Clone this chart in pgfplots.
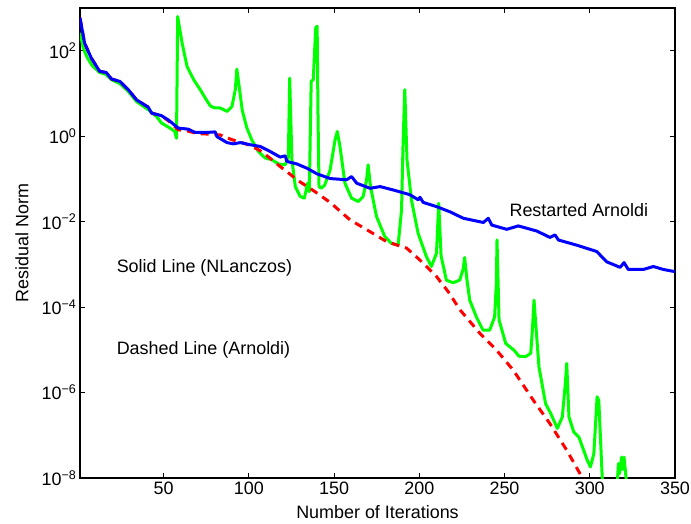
\documentclass[border=0pt]{standalone}
\usepackage{pgfplots}
\pgfplotsset{compat=1.18}
\usepackage{pgfplotstable}
\usepackage{fontspec}
\setmainfont{Liberation Sans}

\pgfplotstableread{
x y
1 5.89e2
3.7 1.51e2
7.6 6.76e1
12.5 3.31e1
16.4 3.09e1
19.4 2.19e1
24.4 1.91e1
29.3 1.23e1
34.2 7.08
41 4.79
43 3.47
48.8 3.02
52.8 2.40
58.6 1.55
64.5 1.46
68.4 1.23
76.2 1.23
80.3 1.26
81.3 0.977
87.2 0.708
91 0.661
95 0.708
100.8 0.631
106.7 0.575
112.6 0.437
118.4 0.324
121.4 0.347
122.3 0.257
128.2 0.224
134.1 0.178
139.9 0.132
147.7 0.102
157.4 0.0955
160.3 0.1135
163.3 0.0794
171.1 0.0603
177 0.0661
184.8 0.0550
194.5 0.0427
199.4 0.0324
200.4 0.0372
202.3 0.0282
210.2 0.0224
218 0.0170
225.8 0.0120
237.6 0.00955
240.5 0.0120
242.5 0.00832
251.3 0.00661
258.1 0.00794
268.9 0.00603
276.7 0.00427
279.6 0.00490
281.6 0.00372
292.3 0.00282
304.1 0.00200
309.9 0.00115
317.8 8.51e-4
320.1 1.10e-3
322.6 7.59e-4
331.4 7.59e-4
337.3 8.91e-4
343.2 7.59e-4
350 6.76e-4
}\restarted

\pgfplotstableread{
x y
1 5.89e2
3.7 1.51e2
7.6 6.76e1
12.5 3.31e1
16.4 3.09e1
19.4 2.19e1
24.4 1.91e1
29.3 1.23e1
34.2 7.08
41 4.79
43 3.47
48.8 3.02
52.8 2.29
58.6 1.41
64 1.32
70 1.15
76 1.12
83.2 1.07
90 0.832
96 0.708
101 0.603
106.7 0.457
112 0.316
118.4 0.195
123 0.141
128.2 0.0955
138.9 0.0501
147.7 0.0282
159.4 0.0110
169.2 0.00646
180.9 0.00339
192.6 0.00240
200.4 0.00126
210.2 5.13e-4
217 2.29e-4
224 8.51e-5
235.7 2.40e-5
245.4 9.77e-6
255.2 3.31e-6
266.9 6.61e-7
276.7 1.86e-7
286.5 4.47e-8
294.3 1.26e-8
300 5.01e-9
}\arnoldi

\pgfplotstableread{
x y
1 2.63e2
3 1.12e2
5.4 6.76e1
8 4.57e1
12.5 3.09e1
16 2.82e1
19.5 2.09e1
24.4 1.70e1
29.3 1.12e1
34.2 6.46
41 4.17
45.9 2.88
48.8 2.04
53.7 1.55
56.6 1.29
57.6 0.891
58.3 6.31e2
60.9 1.51e2
63.8 4.27e1
67.7 2.09e1
71.5 1.23e1
74.5 7.76
77.4 5.13
80 4.57
83.3 4.57
87.2 3.80
90.1 4.90
92.1 1.23e1
93 3.72e1
94.6 1.23e1
96.2 3.98
98.9 1.55
101.8 0.813
105.7 0.437
109.6 0.309
113.5 0.282
117.4 0.224
121.3 0.214
123.2 0.316
124 2.29e1
125.3 0.282
127.3 0.0661
130.2 0.0389
132.6 0.0355
134.5 0.0794
135.5 0.0501
136.6 1.91e1
137.8 2.09e1
139.3 3.55e2
140.1 3.72e2
140.6 3.16
141.2 0.0661
142.5 0.0603
144.6 0.0724
147.7 0.162
150.6 0.813
151.9 1.29
153.5 0.575
156.4 0.0794
160.3 0.0355
164.2 0.0295
167.1 0.0389
169.1 0.0955
170 0.214
171.4 0.0661
174.9 0.0132
179.8 0.00447
183.7 0.00309
187.6 0.00282
189.6 0.0186
190.5 0.692
191.5 1.23e1
192.8 0.282
195.4 0.0324
199.3 0.00537
204.2 0.00151
207.1 8.91e-4
210.1 0.00182
211.4 0.0269
212.8 0.00158
215.9 4.27e-4
219.8 3.72e-4
223.7 4.27e-4
225.8 7.94e-4
226.6 1.45e-3
228 4.27e-4
229.6 1.45e-4
233.5 5.89e-5
237.4 2.88e-5
241.3 2.88e-5
244.2 5.89e-5
245.2 3.55e-4
245.6 3.72e-3
246.8 5.01e-5
250.7 1.41e-5
255.6 9.77e-6
258.5 7.08e-6
262.4 6.92e-6
265.4 8.32e-6
266.4 3.16e-5
267.3 1.45e-4
268.3 4.17e-5
270.2 3.98e-6
274.1 5.50e-7
277.1 3.24e-7
281 1.45e-7
283.9 2.69e-7
285.6 1.5e-6
286.5 4.79e-6
287.8 2.69e-7
290.6 1.20e-7
293.6 9.12e-8
298.5 2.63e-8
300.4 1.82e-8
302.4 3.72e-8
304.3 7.94e-7
305.3 6.61e-7
307.3 1.05e-8
308.5 1e-9
315 1e-9
316.8 2.19e-8
317.5 1.26e-8
318.7 3.09e-8
319.4 1.58e-8
320.1 3.09e-8
321.3 1e-8
322.5 1e-9
}\nlanczos

\begin{document}
\begin{tikzpicture}
\begin{axis}[
  name=ax,
  scale only axis,
  width=595bp, height=470bp,
  xmin=1, xmax=350,
  ymode=log, ymin=1e-8, ymax=1e3,
  xtick={50,100,150,200,250,300,350},
  ytick={1e-8,1e-6,1e-4,1e-2,1,1e2},
  yticklabels={10\textsuperscript{−8},10\textsuperscript{−6},10\textsuperscript{−4},10\textsuperscript{−2},10\textsuperscript{0},10\textsuperscript{2}},
  minor tick num=0,
  yminorticks=false,
  /pgf/number format/assume math mode=true,
  tick align=inside,
  major tick length=5bp,
  every tick/.style={black, line width=0.8bp},
  axis line style={line width=1.1bp},
  ticklabel style={font=\fontsize{18}{21}\selectfont},
  label style={font=\fontsize{18}{21}\selectfont},
  xlabel={Number of Iterations},
  ylabel={Residual Norm},
  xlabel style={at={(axis description cs:0.5,-0.0723)}, anchor=center},
  ylabel style={at={(axis description cs:-0.0975,0.5)}, anchor=center},
  clip=true,
]
\addplot[draw={rgb,255:red,0;green,255;blue,0}, line width=3bp, line join=round] table[x=x,y=y] {\nlanczos};
\addplot[draw={rgb,255:red,255;green,0;blue,0}, line width=3bp, dash pattern=on 8bp off 6bp] table[x=x,y=y] {\arnoldi};
\addplot[draw={rgb,255:red,0;green,0;blue,255}, line width=3bp, line join=round] table[x=x,y=y] {\restarted};
\node[anchor=west, font=\fontsize{18}{21}\selectfont] at (axis cs:20.5,8.1e-4) {Solid Line (NLanczos)};
\node[anchor=west, font=\fontsize{18}{21}\selectfont] at (axis cs:20.5,9.8e-6) {Dashed Line (Arnoldi)};
\node[anchor=west, font=\fontsize{18}{21}\selectfont] at (axis cs:250.9,1.86e-2) {Restarted Arnoldi};
\end{axis}
\pgfresetboundingbox
\path ([shift={(-80bp,-46bp)}]ax.south west) rectangle ([shift={(16bp,8bp)}]ax.north east);
\end{tikzpicture}
\end{document}
